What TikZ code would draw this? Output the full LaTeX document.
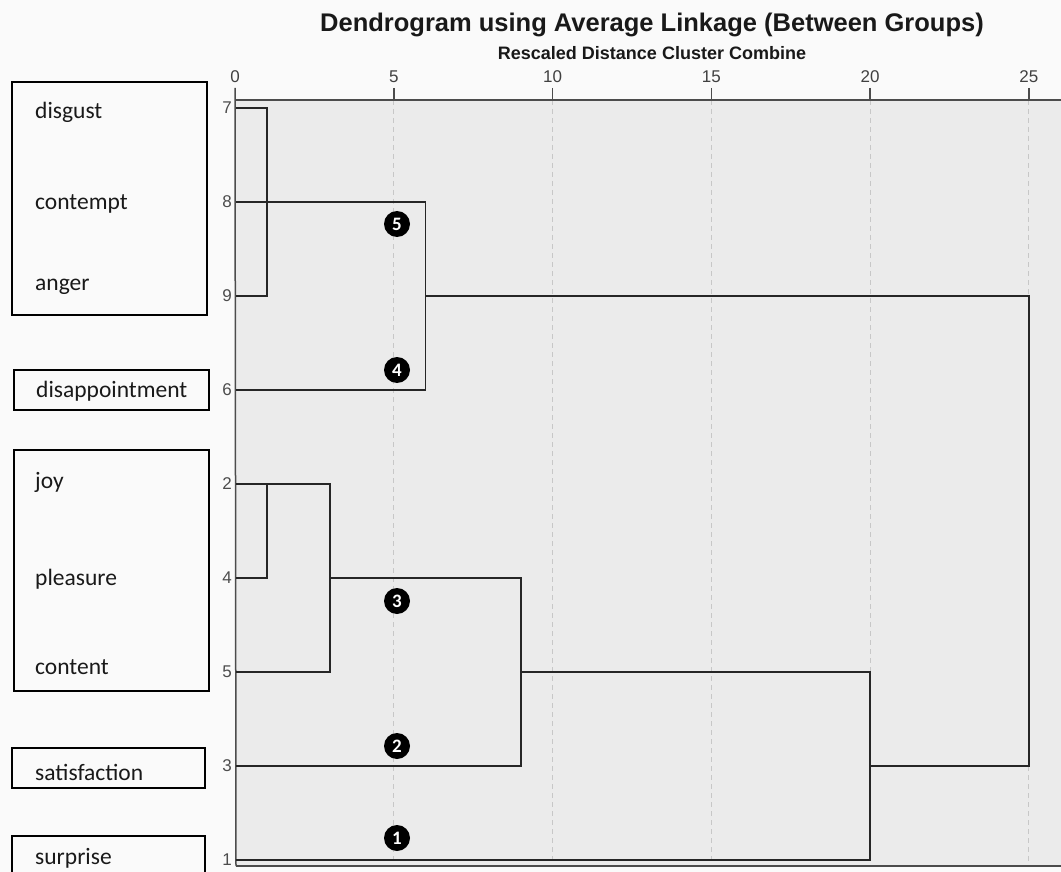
\documentclass[tikz,border=0pt]{standalone}
\usepackage{fontspec}
\usetikzlibrary{calc}
\setmainfont{Carlito}
\newfontfamily\arialfont{Liberation Sans}
\newfontfamily\titlefont{Liberation Sans}
\begin{document}
\begin{tikzpicture}[x=1pt,y=-1pt,
  lab/.style={font=\fontsize{23.5}{28}\selectfont, anchor=west, inner sep=0pt, text=black!90},
  rownum/.style={font=\arialfont\fontsize{17}{18}\selectfont, text=black!70, anchor=east, inner sep=0pt},
  ticklab/.style={font=\arialfont\fontsize{17}{18}\selectfont, text=black!75, anchor=south, inner sep=0pt},
  link/.style={draw=black!85, line width=1.8pt},
  axisline/.style={draw=black!70, line width=1.5pt},
  gridline/.style={draw=black!22, dashed, dash pattern=on 5pt off 4pt, line width=0.9pt},
  badge/.style={circle, fill=black, text=white, inner sep=0pt, minimum size=26pt, font=\fontsize{19}{19}\selectfont\bfseries},
  groupbox/.style={draw=black, line width=2.8pt, inner sep=0pt}
]
% canvas
\fill[black!2] (0,0) rectangle (1061,872);
\useasboundingbox (0,0) rectangle (1061,872);
% plot area
\fill[black!8] (236,100) rectangle (1061,866);

% titles
\node[font=\titlefont\bfseries\fontsize{25.5}{28}\selectfont, text=black!90] (title) at (652,25) {Dendrogram using Average Linkage (Between Groups)};
\node[font=\titlefont\bfseries\fontsize{18}{20}\selectfont, text=black!90] (subtitle) at (652,53) {Rescaled Distance Cluster Combine};

% axis ticks positions
\foreach \v/\n in {0/a0,5/a5,10/a10,15/a15,20/a20,25/a25}{
  \coordinate (\n) at ({235+31.75*\v},100);
  \coordinate (\n t) at ({235+31.75*\v},88);
  \node[ticklab] at ({235+31.75*\v},83) {\v};
}
% grid
\foreach \n in {a5,a10,a15,a20,a25}{
  \coordinate (\n b) at ($(\n)+(0,766)$);
  \draw[gridline] (\n) -- (\n b);
}
% axes
\coordinate (topR) at (1061,100);
\coordinate (botL) at (236,866);
\coordinate (botR) at (1061,866);
\draw[axisline] (a0) -- (topR);
\draw[axisline] (botL) -- (botR);
\draw[axisline] (a0t) -- (botL);
\foreach \n in {a5,a10,a15,a20,a25}{ \draw[axisline] (\n t) -- (\n); }

% leaves
\foreach \k/\yy in {7/108,8/202,9/296,6/390,2/484,4/578,5/672,3/766,1/860}{
  \coordinate (L\k) at (236,\yy);
  \node[rownum] (n\k) at (232,\yy) {\k};
}
% merge coordinates
\coordinate (m79a) at (266.75,108);
\coordinate (m79b) at (266.75,296);
\coordinate (m8) at (425.5,202);
\coordinate (m6) at (425.5,390);
\coordinate (mA) at (425.5,296);
\coordinate (rootTop) at (1028.75,296);
\coordinate (rootBot) at (1028.75,766);
\coordinate (m24a) at (266.75,484);
\coordinate (m24b) at (266.75,578);
\coordinate (m2) at (330.25,484);
\coordinate (m5) at (330.25,672);
\coordinate (m245) at (330.25,578);
\coordinate (m245r) at (520.75,578);
\coordinate (m3) at (520.75,766);
\coordinate (mB) at (520.75,672);
\coordinate (mC) at (870,672);
\coordinate (m1) at (870,860);
\coordinate (mD) at (870,766);

% links
\draw[link] (L7) -- (m79a) -- (m79b) -- (L9);
\draw[link] (L8) -- (m8) -- (m6) -- (L6);
\draw[link] (mA) -- (rootTop) -- (rootBot) -- (mD);
\draw[link] (L2) -- (m2) -- (m5) -- (L5);
\draw[link] (L4) -- (m24b) -- (m24a);
\draw[link] (m245) -- (m245r) -- (m3) -- (L3);
\draw[link] (mB) -- (mC) -- (m1) -- (L1);

% badges
\node[badge] (b5) at (397,224) {5};
\node[badge] (b4) at (397,370) {4};
\node[badge] (b3) at (397,601) {3};
\node[badge] (b2) at (397,746) {2};
\node[badge] (b1) at (397,838) {1};

% left boxes
\node[groupbox, minimum width=195pt, minimum height=233pt] (box1) at (109.5,198.5) {};
\node[groupbox, minimum width=195pt, minimum height=40pt] (box2) at (111.5,390) {};
\node[groupbox, minimum width=195pt, minimum height=241pt] (box3) at (111.5,570.5) {};
\node[groupbox, minimum width=193pt, minimum height=40pt] (box4) at (108.5,768) {};
\node[groupbox, minimum width=193pt, minimum height=60pt] (box5) at (108.5,866) {};

% labels
\node[lab] (tdisgust) at (35,112) {disgust};
\node[lab] (tcontempt) at (35,204) {contempt};
\node[lab] (tanger) at (35,287) {anger};
\node[lab] (tdisap) at (36,391) {disappointment};
\node[lab] (tjoy) at (35,482) {joy};
\node[lab] (tpleasure) at (35,579) {pleasure};
\node[lab] (tcontent) at (35,667) {content};
\node[lab] (tsatis) at (35,772) {satisfaction};
\node[lab] (tsurprise) at (35,858) {surprise};
\end{tikzpicture}
\end{document}
